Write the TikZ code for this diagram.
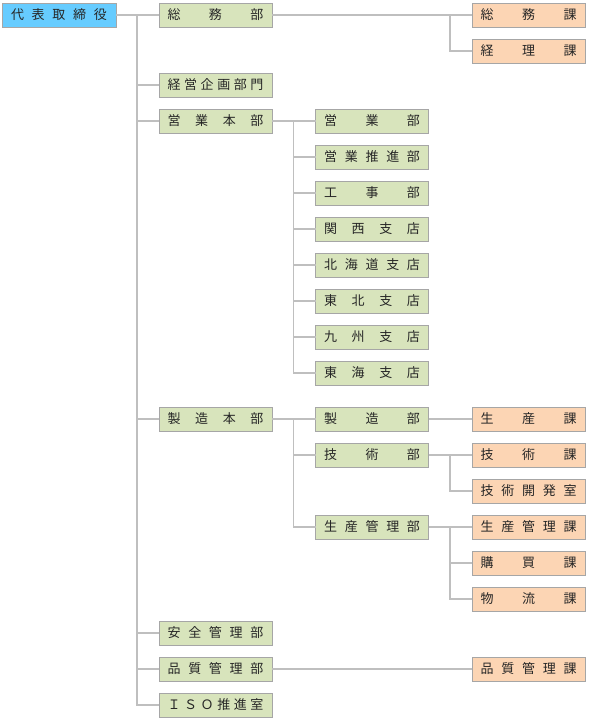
\documentclass[tikz,border=0pt]{standalone}
\usepackage{fontspec}
\setmainfont{Noto Sans CJK JP}
\usepackage{tikz}
\usetikzlibrary{positioning}
\usepackage{xcolor}

\definecolor{ceoblue}{RGB}{102,204,255}
\definecolor{deptgreen}{RGB}{216,228,188}
\definecolor{sectorange}{RGB}{252,213,180}
\definecolor{boxline}{RGB}{166,166,166}
\definecolor{linkgray}{RGB}{191,191,191}
\newcommand{\boxtext}[1]{\makebox[96pt][s]{#1}}

\begin{document}
\begin{tikzpicture}[
    x=1pt, y=-1pt,
    node distance=12pt,
    box/.style={rectangle, draw=boxline, line width=0.8pt, outer sep=0pt, minimum width=113pt, minimum height=24pt, inner sep=0pt, font=\fontsize{13}{15}\selectfont, text=black!85},
    top/.style={box, fill=ceoblue, minimum width=114pt},
    dept/.style={box, fill=deptgreen},
    sect/.style={box, fill=sectorange},
    link/.style={draw=linkgray, line width=1.8pt}
]
    \useasboundingbox (0,0) rectangle (589,719);
    % top
    \node[top] (ceo) at (59,15) {\boxtext{代\hfill 表\hfill 取\hfill 締\hfill 役}};
    % first level
    \node[dept] (somu) at (215.5,15) {\boxtext{総\hfill 務\hfill 部}};
    \node[dept] (keiei) at (215.5,85) {\boxtext{経\hfill 営\hfill 企\hfill 画\hfill 部\hfill 門}};
    \node[dept, below=of keiei] (eigyohq) {\boxtext{営\hfill 業\hfill 本\hfill 部}};
    \node[dept] (seizohq) at (215.5,419) {\boxtext{製\hfill 造\hfill 本\hfill 部}};
    \node[dept] (anzen) at (215.5,633) {\boxtext{安\hfill 全\hfill 管\hfill 理\hfill 部}};
    \node[dept, below=of anzen] (hinshitsu) {\boxtext{品\hfill 質\hfill 管\hfill 理\hfill 部}};
    \node[dept, below=of hinshitsu] (iso) {\boxtext{Ｉ\hfill Ｓ\hfill Ｏ\hfill 推\hfill 進\hfill 室}};
    % sales
    \node[dept] (eigyo) at (372,121) {\boxtext{営\hfill 業\hfill 部}};
    \node[dept, below=of eigyo] (suishin) {\boxtext{営\hfill 業\hfill 推\hfill 進\hfill 部}};
    \node[dept, below=of suishin] (koji) {\boxtext{工\hfill 事\hfill 部}};
    \node[dept, below=of koji] (kansai) {\boxtext{関\hfill 西\hfill 支\hfill 店}};
    \node[dept, below=of kansai] (hokkaido) {\boxtext{北\hfill 海\hfill 道\hfill 支\hfill 店}};
    \node[dept, below=of hokkaido] (tohoku) {\boxtext{東\hfill 北\hfill 支\hfill 店}};
    \node[dept, below=of tohoku] (kyushu) {\boxtext{九\hfill 州\hfill 支\hfill 店}};
    \node[dept, below=of kyushu] (tokai) {\boxtext{東\hfill 海\hfill 支\hfill 店}};
    % manufacturing
    \node[dept] (seizo) at (372,419) {\boxtext{製\hfill 造\hfill 部}};
    \node[dept, below=of seizo] (gijutsu) {\boxtext{技\hfill 術\hfill 部}};
    \node[dept] (seisankanri) at (372,527) {\boxtext{生\hfill 産\hfill 管\hfill 理\hfill 部}};
    % sections
    \node[sect] (somuka) at (528.5,15) {\boxtext{総\hfill 務\hfill 課}};
    \node[sect, below=of somuka] (keiri) {\boxtext{経\hfill 理\hfill 課}};
    \node[sect] (seisanka) at (528.5,419) {\boxtext{生\hfill 産\hfill 課}};
    \node[sect, below=of seisanka] (gijutsuka) {\boxtext{技\hfill 術\hfill 課}};
    \node[sect, below=of gijutsuka] (kaihatsu) {\boxtext{技\hfill 術\hfill 開\hfill 発\hfill 室}};
    \node[sect, below=of kaihatsu] (kanrika) {\boxtext{生\hfill 産\hfill 管\hfill 理\hfill 課}};
    \node[sect, below=of kanrika] (kobai) {\boxtext{購\hfill 買\hfill 課}};
    \node[sect, below=of kobai] (butsuryu) {\boxtext{物\hfill 流\hfill 課}};
    \node[sect] (hinshitsuka) at (528.5,669) {\boxtext{品\hfill 質\hfill 管\hfill 理\hfill 課}};
    % connectors
    \foreach \p/\c in {ceo/somu, ceo/keiei, ceo/eigyohq, ceo/seizohq, ceo/anzen, ceo/hinshitsu, ceo/iso,
        somu/somuka, somu/keiri,
        eigyohq/eigyo, eigyohq/suishin, eigyohq/koji, eigyohq/kansai, eigyohq/hokkaido, eigyohq/tohoku, eigyohq/kyushu, eigyohq/tokai,
        seizohq/seizo, seizohq/gijutsu, seizohq/seisankanri,
        seizo/seisanka, gijutsu/gijutsuka, gijutsu/kaihatsu,
        seisankanri/kanrika, seisankanri/kobai, seisankanri/butsuryu,
        hinshitsu/hinshitsuka}
        \draw[link] (\c.west) -- ++(-22,0) |- (\p.east);
\end{tikzpicture}
\end{document}
